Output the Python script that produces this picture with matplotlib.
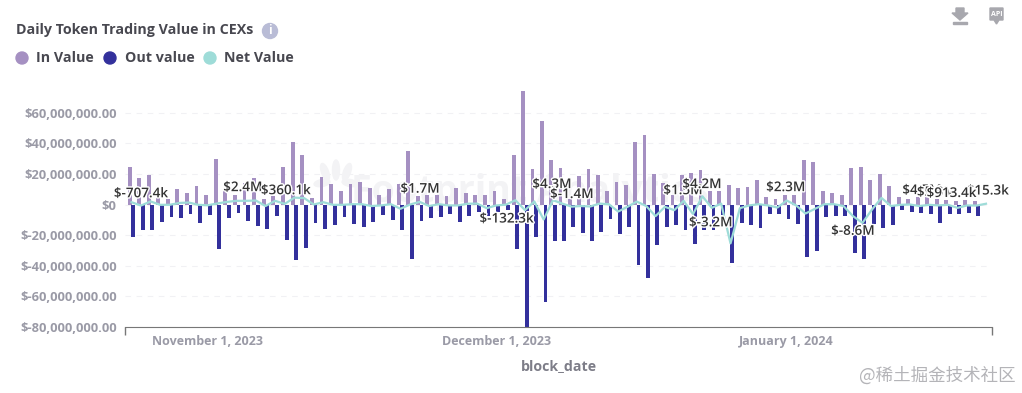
import matplotlib
matplotlib.use('Agg')
import matplotlib.pyplot as plt
import matplotlib.patheffects as pe
from matplotlib.patches import Circle, Ellipse, Polygon, Rectangle
import numpy as np

# --- data, all values in millions of USD ---
in_value = [24.5, 17, 19.3, 4, 3.3, 10, 7.6, 12.4, 6.5, 30,
            10, 6.5, 14, 17.6, 3.7, 5.4, 24.5, 41, 32.6, 4.3,
            18, 13.7, 9, 13.7, 15, 11, 6.5, 9.8, 13.7, 35,
            5.4, 6.5, 6, 5.6, 11, 7.8, 5.9, 5.9, 8.5, 3.3,
            32.6, 74.3, 23.5, 54.8, 29.3, 24, 3.3, 18.3, 23.5, 19,
            9, 15, 13, 41, 45.6, 19.6, 14, 5.9, 19, 20.6,
            22.8, 8.5, 8.5, 13, 11, 11.7, 15.7, 5.2, 3.9, 6.5,
            6.5, 29.3, 28, 8.5, 7.8, 5.9, 24.1, 24.8, 16.3, 19.6,
            12.4, 4.6, 3.9, 4.6, 4.6, 3.3, 2.8, 2.2, 2.8, 2.2]
out_value = [-21.3, -16.7, -16.7, -11.5, -8.3, -8.9, -6.3, -12.2, -7, -29.1,
             -8.9, -5.7, -10.9, -14.1, -16.1, -7.6, -23.3, -36.3, -28.5, -12.2,
             -16.1, -13.5, -8.3, -12.8, -14.8, -11.5, -7, -10.2, -16.7, -35.7,
             -10.9, -8.9, -8.3, -6.3, -11.5, -7.6, -5, -7.6, -5, -3.3,
             -29.1, -82, -21.3, -63.7, -23.9, -23.9, -14.8, -18.7, -23.9, -18,
             -9.6, -19.3, -14.8, -39.6, -48, -26.5, -14.8, -13.5, -16.7, -25.9,
             -16.5, -16.7, -7, -38.3, -12.2, -13.5, -15.4, -6.5, -6.5, -9.6,
             -12.8, -34.3, -30.4, -8.3, -7.6, -7.6, -31.7, -35.7, -12.8, -15.4,
             -13.5, -3.7, -5, -5.7, -6.3, -12.2, -6.3, -6.3, -5.7, -7.6]
net_value = [1.5, -0.7, 2, -0.2, -0.2, 1, 1.3, -0.2, -0.5, 0.7,
             1.7, 2.4, 2.4, 2.6, -1, 2.4, 0.4, 4.5, 4.2, 0,
             1.5, -0.2, -0.2, 0.2, 0.2, -1, -0.6, 0.2, -2.8, 0,
             1.7, -1, 0.2, -0.6, -0.6, 0.5, 0.6, -2.4, -0.6, -0.1,
             2.8, -3.7, 2, -9.8, 2.8, 0.6, -1.4, -1, -1.3, 0.6,
             0.2, -4.6, -1.5, 1.9, -1, -7.6, -1.5, -3.7, 2.4, -6.3,
             5.4, -2.2, 0.6, -25.4, -2.4, -0.6, 0.2, -0.6, -2, 2.6,
             -0.6, -5.9, -2.8, 0.2, 0.2, -1, -7.6, -12, -3.3, 4.3,
             -1, -0.2, 0, -1, -0.2, -0.6, -0.2, -2.2, -0.6, -0.7, 0.5]

tick_idx = [8, 38, 69]
tick_labels = ['November 1, 2023', 'December 1, 2023', 'January 1, 2024']
y_ticks = [-80, -60, -40, -20, 0, 20, 40, 60]
y_labels = ['$-80,000,000.00', '$-60,000,000.00', '$-40,000,000.00', '$-20,000,000.00',
            '$0', '$20,000,000.00', '$40,000,000.00', '$60,000,000.00']

# label text, x (day index), y (millions) of the label centre
net_labels = [('$1.5M', 57.93, 9),
              ('$4.2M', 59.96, 13),
              ('$-3.2M', 60.9, -12),
              ('$-707.4k', 1, 7),
              ('$2.4M', 11.65, 11),
              ('$360.1k', 16.13, 9),
              ('$1.7M', 30.04, 10),
              ('$-132.3k', 39.1, -9.5),
              ('$4.3M', 43.9, 13),
              ('$-1.4M', 46.04, 6.5),
              ('$2.3M', 68.9, 11),
              ('$-8.6M', 76, -17.5),
              ('$15.3k', 90.2, 8.8),
              ('$4.5M', 83.26, 9.1),
              ('$5.9M', 84.8, 7.8),
              ('$913.4k', 86.4, 7.2)]

# the day spacing in the picture is not quite even, so the x axis follows it
x_knots = [-0.685, 0, 8, 14, 28, 41, 53, 71, 89, 90, 90.64]
px_knots = [125, 131.5, 207.8, 265.5, 400.5, 525, 636.8, 805.5, 976.5, 986, 992]

W, H = 1022, 393
FONT = ['Open Sans', 'DejaVu Sans']
IN_COL = '#a590c2'
OUT_COL = '#33309c'
NET_COL = '#9edcd8'
GREY = '#9a9aa6'


def px(x, y):
    return x / W, 1 - y / H


plt.rcParams['font.family'] = FONT
plt.rcParams['axes.unicode_minus'] = False
fig = plt.figure(figsize=(W / 100, H / 100), dpi=100, facecolor='white')
ax = fig.add_axes([125 / W, 1 - 327 / H, (992 - 125) / W, (327 - 82) / H])
ax.set_xscale('function', functions=(lambda v: np.interp(v, x_knots, px_knots),
                                     lambda v: np.interp(v, px_knots, x_knots)))

x = np.arange(len(net_value))
bar_x = x[:len(in_value)]
ax.bar(bar_x - 0.19, in_value, width=0.4, color=IN_COL, zorder=2)
ax.bar(bar_x + 0.19, out_value, width=0.4, color=OUT_COL, zorder=2)
ax.plot(x, net_value, color=NET_COL, lw=1.6, zorder=3)

ax.set_xlim(-0.685, 90.64)
ax.set_ylim(-80, 80)
ax.set_yticks(y_ticks)
ax.set_yticklabels(y_labels, fontsize=9.3, fontweight='bold', color=GREY)
ax.set_xticks(tick_idx)
ax.set_xticklabels(tick_labels, fontsize=9, fontweight='bold', color=GREY)
ax.set_xticks(ax.get_xlim(), minor=True)
ax.set_xticklabels(['', ''], minor=True)
ax.tick_params(axis='x', which='major', length=0, pad=6)
ax.tick_params(axis='x', which='minor', length=6, color='#777777', width=1)
ax.tick_params(axis='y', length=0, pad=6)
for name in ['top', 'right', 'left']:
    ax.spines[name].set_visible(False)
ax.spines['bottom'].set_color('#777777')
ax.grid(axis='y', color='#f1f1f4', lw=0.8, ls=(0, (5, 5)), zorder=0)
ax.set_axisbelow(True)
ax.set_xlabel('block_date', fontsize=10.2, fontweight='bold', color='#7d7d88', labelpad=8)

# value labels with a white halo
for i, (txt, lx, ly) in enumerate(net_labels):
    ax.text(lx, ly, txt, ha='center', va='center', fontsize=9.7, fontweight='semibold',
            color='#333333', zorder=5 + i * 0.01, clip_on=False,
            path_effects=[pe.withStroke(linewidth=2, foreground='white')])

# faint watermark behind the bars
wm_x, wm_y = px(530, 192)
ax.text(wm_x, wm_y, 'Footprint Analytics', fontsize=27, fontweight='bold', transform=fig.transFigure,
        color='#f3f3f5', ha='center', va='center', zorder=1)
for lx, ly, w, h, ang in [(325, 172, 7, 18, 20), (336, 170, 7, 20, 0), (347, 172, 7, 18, -20),
                          (322, 183, 16, 7, 10), (350, 183, 16, 7, -10)]:
    ax.add_patch(Ellipse((lx, H - ly), w, h, angle=ang, color='#f3f3f5', transform=None, zorder=1))

# title and legend
fig.text(*px(16, 30), 'Daily Token Trading Value in CEXs', fontsize=10.3, fontweight='bold',
         color='#484850', va='center')
for cx, tx, col, name in [(22, 36, IN_COL, 'In Value'), (110, 125, OUT_COL, 'Out value'),
                          (210, 224, NET_COL, 'Net Value')]:
    fig.patches.append(Circle((cx, H - 58), 6, color=col, transform=None))
    fig.text(*px(tx, 58.5), name, fontsize=10.3, fontweight='bold', color='#484850', va='center')

# info icon
fig.patches.append(Circle((270, H - 31), 7.5, color='#b9bcd6', transform=None))
fig.text(*px(270, 31), 'i', fontsize=8.5, fontweight='bold', color='white', ha='center', va='center')

# download icon
fig.patches.append(Polygon([(956, H - 8), (964, H - 8), (964, H - 13), (968, H - 13),
                            (960, H - 20), (952, H - 13), (956, H - 13)],
                           color='#a8a8ae', transform=None))
fig.patches.append(Rectangle((953, H - 24), 14, 2, color='#a8a8ae', transform=None))
# api icon
fig.patches.append(Polygon([(990, H - 8), (1003, H - 8), (1003, H - 20), (999, H - 20),
                            (996.5, H - 24), (994, H - 20), (990, H - 20)],
                           color='#a8a8ae', transform=None))
fig.text(*px(996.5, 14), 'API', fontsize=5, fontweight='bold', color='white', ha='center', va='center')

# site watermark
fig.text(*px(1016, 376), '@稀土掘金技术社区', fontsize=12.6, color='#b4b4b8', ha='right', va='center',
         family=['Noto Sans CJK SC', 'DejaVu Sans'])

fig.savefig('out.png', dpi=100)
